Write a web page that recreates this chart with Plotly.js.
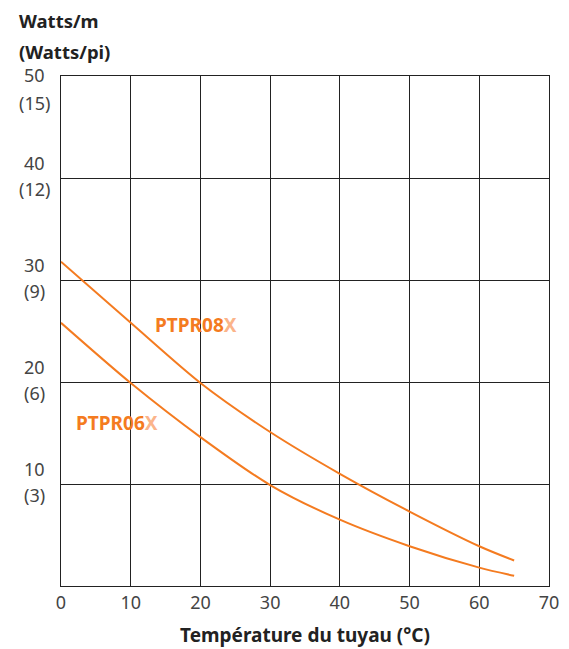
<!DOCTYPE html>
<html>
<head>
<meta charset="utf-8">
<script src="https://cdn.plot.ly/plotly-3.0.1.min.js"></script>
<style>html,body{margin:0;padding:0;background:#fff;}#chart{width:569px;height:649px;}</style>
</head>
<body>
<div id="chart"></div>
<script>
// Data
const temps = [0, 10, 20, 30, 40, 50, 60, 65];
const ptpr08 = [31.8, 25.8, 19.9, 15.1, 11.0, 7.3, 3.9, 2.5];
const ptpr06 = [25.8, 19.9, 14.6, 9.9, 6.5, 3.9, 1.8, 1.0];
const seriesNames = ["PTPR08", "PTPR06"];
const seriesLabelPos = [[13.2, 25.6], [1.9, 16.0]];
const yTickVals = [10, 20, 30, 40, 50];
const yTickTop = ["10", "20", "30", "40", "50"];
const yTickBottom = ["(3)", "(6)", "(9)", "(12)", "(15)"];
const xTickVals = [0, 10, 20, 30, 40, 50, 60, 70];

const orange = "#f47b20";
const lightOrange = "#fbb48a";
const FONT = "Noto Sans, sans-serif";

const traces = [ptpr08, ptpr06].map((vals, i) => ({
  x: temps, y: vals, type: "scatter", mode: "lines",
  line: {color: orange, width: 2, shape: "spline", smoothing: 0.8},
  name: seriesNames[i], hoverinfo: "skip"
}));

const annotations = [];
yTickVals.forEach((v, i) => {
  const isTop = v === 50;
  const tickFont = {family: FONT, size: 18, color: "#444"};
  annotations.push({
    xref: "paper", yref: "y", x: 0, y: v, xshift: -27,
    xanchor: "center", yanchor: "middle",
    yshift: isTop ? 1 : 15,
    text: yTickTop[i], showarrow: false, font: tickFont
  });
  annotations.push({
    xref: "paper", yref: "y", x: 0, y: v, xshift: -27,
    xanchor: "center", yanchor: "middle",
    yshift: isTop ? -27 : -11,
    text: yTickBottom[i], showarrow: false, font: tickFont
  });
});
seriesNames.forEach((n, i) => {
  annotations.push({
    xref: "x", yref: "y", x: seriesLabelPos[i][0], y: seriesLabelPos[i][1],
    xanchor: "left", yanchor: "middle", showarrow: false,
    text: "<b>" + n + "<span style='color:" + lightOrange + "'>X</span></b>",
    font: {family: FONT, size: 19, color: orange}
  });
});
annotations.push({
  xref: "paper", yref: "paper", x: 0, y: 1, xshift: -44, yshift: 56,
  xanchor: "left", yanchor: "middle", showarrow: false, align: "left",
  text: "<b>Watts/m</b>", font: {family: FONT, size: 18.5, color: "#222"}
});
annotations.push({
  xref: "paper", yref: "paper", x: 0, y: 1, xshift: -44, yshift: 25,
  xanchor: "left", yanchor: "middle", showarrow: false, align: "left",
  text: "<b>(Watts/pi)</b>", font: {family: FONT, size: 18.5, color: "#222"}
});

const layout = {
  width: 569, height: 649,
  margin: {l: 60.5, r: 20, t: 76, b: 63},
  paper_bgcolor: "#fff", plot_bgcolor: "#fff",
  showlegend: false,
  xaxis: {
    range: [0, 70], tickvals: xTickVals, ticks: "",
    showgrid: true, gridcolor: "#222", gridwidth: 1,
    showline: true, linecolor: "#222", linewidth: 1, mirror: true,
    zeroline: false,
    tickfont: {family: FONT, size: 18, color: "#444"},
    title: {text: "<b>Température du tuyau (°C)</b>", standoff: 16,
            font: {family: FONT, size: 19, color: "#222"}}
  },
  yaxis: {
    range: [0, 50], tickvals: yTickVals, showticklabels: false, ticks: "",
    showgrid: true, gridcolor: "#222", gridwidth: 1,
    showline: true, linecolor: "#222", linewidth: 1, mirror: true,
    zeroline: false
  },
  annotations: annotations
};

Plotly.newPlot("chart", traces, layout, {staticPlot: true, displayModeBar: false});
</script>
</body>
</html>
